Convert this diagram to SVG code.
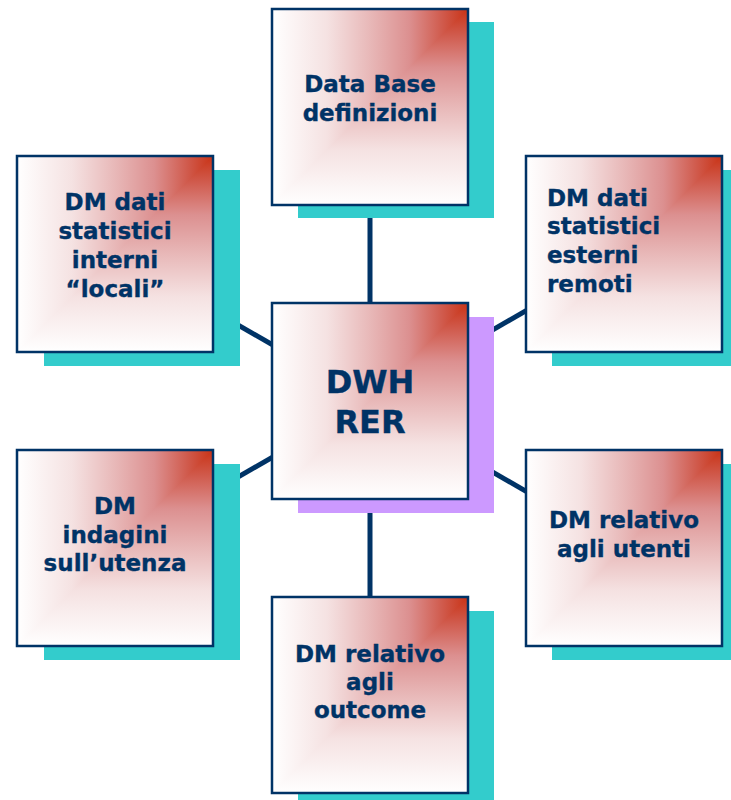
<svg xmlns="http://www.w3.org/2000/svg" width="731" height="800" viewBox="0 0 731 800">
<defs>
<linearGradient id="gh" x1="0" y1="0" x2="1" y2="0">
<stop offset="0" stop-color="#ffffff"/>
<stop offset="0.28" stop-color="#f5e2e2"/>
<stop offset="0.5" stop-color="#e8b8b8"/>
<stop offset="0.7" stop-color="#dc9090"/>
<stop offset="0.87" stop-color="#d05a4c"/>
<stop offset="1" stop-color="#c93316"/>
</linearGradient>
<linearGradient id="gv" x1="0" y1="1" x2="0" y2="0">
<stop offset="0" stop-color="#ffffff"/>
<stop offset="0.28" stop-color="#f5e2e2"/>
<stop offset="0.5" stop-color="#e8b8b8"/>
<stop offset="0.7" stop-color="#dc9090"/>
<stop offset="0.87" stop-color="#d05a4c"/>
<stop offset="1" stop-color="#c93316"/>
</linearGradient>
<g id="panel">
<rect x="0" y="0" width="196" height="196" fill="url(#gv)"/>
<path d="M0,0H196L0,196Z" fill="url(#gh)"/>
<rect x="0" y="0" width="196" height="196" fill="none" stroke="#003366" stroke-width="2.5"/>
</g>
<style>
.sh{fill:#33cccc}
.shp{fill:#cc99ff}
.t{font-family:"DejaVu Sans",Verdana,sans-serif;font-weight:bold;font-size:23px;fill:#003366;stroke:#003366;stroke-width:0.35;text-anchor:middle}
.tl{text-anchor:start}
.big{font-size:32px}
.c{stroke:#003366;stroke-width:5;fill:none}
</style>
</defs>
<rect width="731" height="800" fill="#ffffff"/>
<g id="connectors">
<line class="c" x1="370" y1="401" x2="370" y2="107"/>
<line class="c" x1="370" y1="401" x2="370" y2="695"/>
<line class="c" x1="370" y1="401" x2="115" y2="254"/>
<line class="c" x1="370" y1="401" x2="624" y2="254"/>
<line class="c" x1="370" y1="401" x2="115" y2="548"/>
<line class="c" x1="370" y1="401" x2="624" y2="548"/>
</g>
<g id="n-top">
<rect class="sh" x="298" y="22" width="196" height="196"/>
<use href="#panel" x="272" y="9"/>
<text class="t" x="370" y="92">Data Base</text>
<text class="t" x="370" y="121">definizioni</text>
</g>
<g id="n-left-upper">
<rect class="sh" x="44" y="170" width="196" height="196"/>
<use href="#panel" x="17" y="156"/>
<text class="t" x="115" y="210">DM dati</text>
<text class="t" x="115" y="239">statistici</text>
<text class="t" x="115" y="268">interni</text>
<text class="t" x="115" y="297">“locali”</text>
</g>
<g id="n-right-upper">
<rect class="sh" x="552" y="170" width="196" height="196"/>
<use href="#panel" x="526" y="156"/>
<text class="t tl" x="547" y="206">DM dati</text>
<text class="t tl" x="547" y="234">statistici</text>
<text class="t tl" x="547" y="263">esterni</text>
<text class="t tl" x="547" y="292">remoti</text>
</g>
<g id="n-center">
<rect class="shp" x="298" y="317" width="196" height="196"/>
<use href="#panel" x="272" y="303"/>
<text class="t big" x="370" y="393">DWH</text>
<text class="t big" x="370" y="433">RER</text>
</g>
<g id="n-left-lower">
<rect class="sh" x="44" y="464" width="196" height="196"/>
<use href="#panel" x="17" y="450"/>
<text class="t" x="115" y="514">DM</text>
<text class="t" x="115" y="543">indagini</text>
<text class="t" x="115" y="571">sull’utenza</text>
</g>
<g id="n-right-lower">
<rect class="sh" x="552" y="464" width="196" height="196"/>
<use href="#panel" x="526" y="450"/>
<text class="t" x="624" y="528">DM relativo</text>
<text class="t" x="624" y="557">agli utenti</text>
</g>
<g id="n-bottom">
<rect class="sh" x="298" y="611" width="196" height="196"/>
<use href="#panel" x="272" y="597"/>
<text class="t" x="370" y="662">DM relativo</text>
<text class="t" x="370" y="690">agli</text>
<text class="t" x="370" y="718">outcome</text>
</g>
</svg>
